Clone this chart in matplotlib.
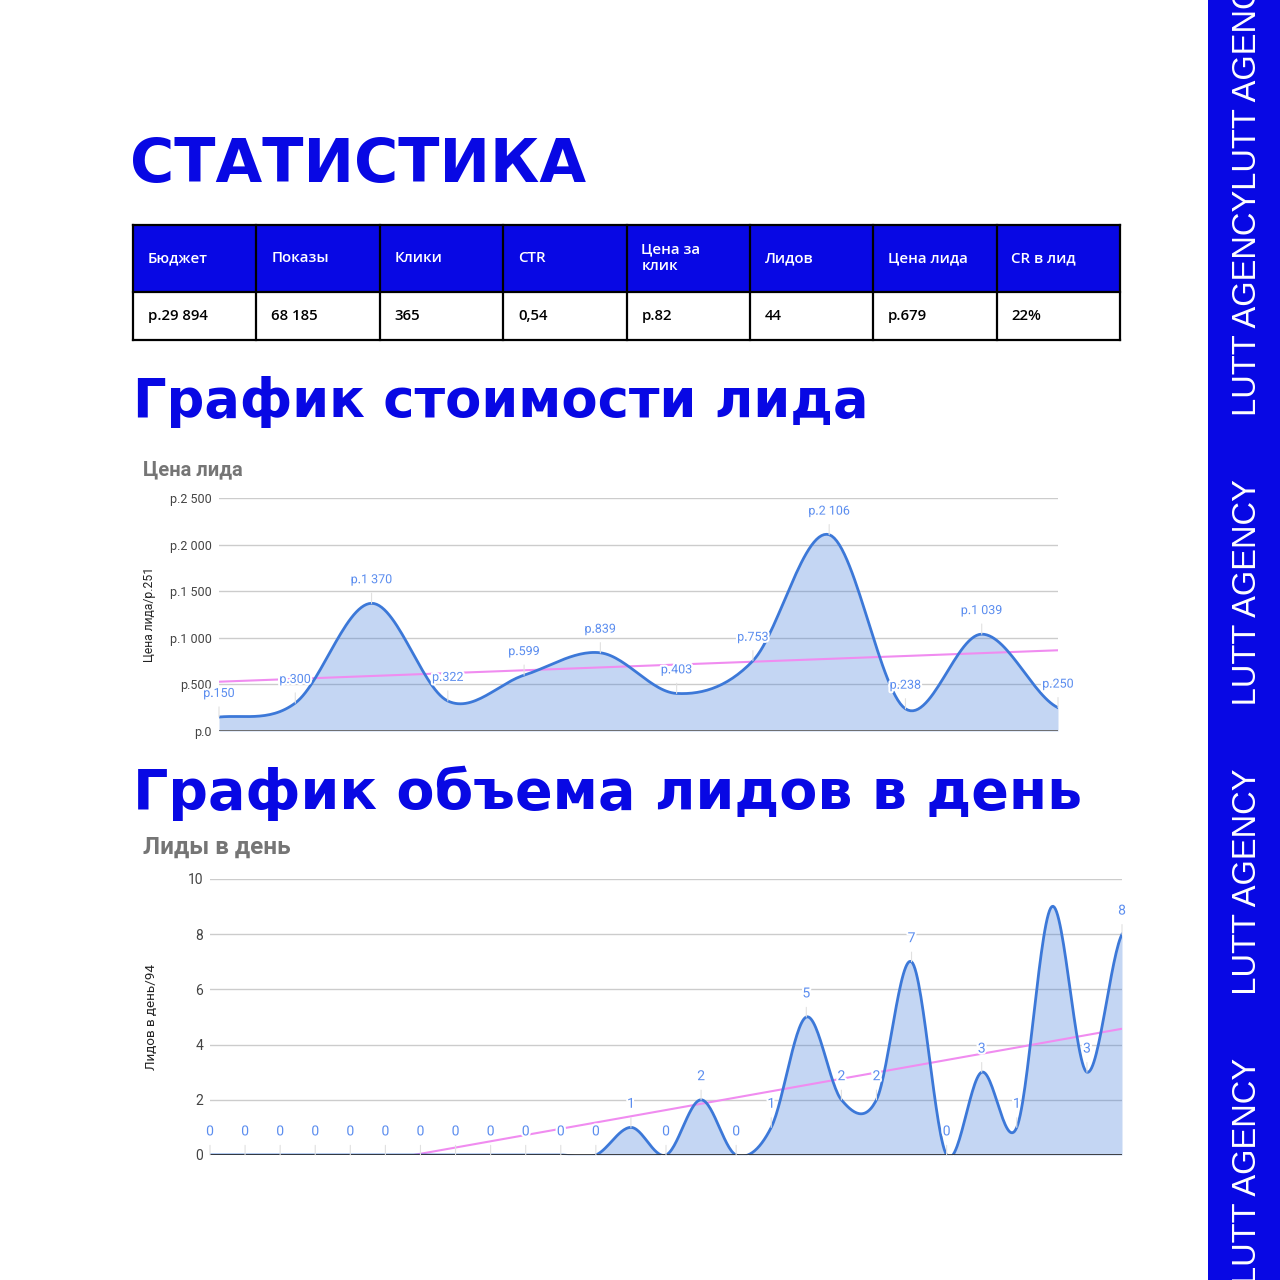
import numpy as np
import matplotlib
matplotlib.use("Agg")
import matplotlib.pyplot as plt
from matplotlib.patches import Rectangle
import matplotlib.patheffects as pe

# ----- данные -----
table_headers = ["Бюджет", "Показы", "Клики", "CTR", "Цена за\nклик",
                 "Лидов", "Цена лида", "CR в лид"]
table_values = ["р.29 894", "68 185", "365", "0,54", "р.82", "44", "р.679", "22%"]

lead_cost = [150, 300, 1370, 322, 599, 839, 403, 753, 2106, 238, 1039, 250]
lead_cost_ticks = [0, 500, 1000, 1500, 2000, 2500]

leads_per_day = [0, 0, 0, 0, 0, 0, 0, 0, 0, 0, 0, 0,
                 1, 0, 2, 0, 1, 5, 2, 2, 7, 0, 3, 1, 9, 3, 8]
leads_ticks = [0, 2, 4, 6, 8, 10]

band_text = ("LUTT AGENCY" + " " * 7) * 3 + "LUTT AGENCYLUTT AGENCY"

BLUE = "#0808e4"
LINE = "#3c78d8"
LABEL = "#5b8def"
TREND = "#f08cf0"
W = 1280


def fx(px):
    return px / W


def fy(px):
    return 1 - px / W


def smooth(y, n=30):
    """ кривая Катмулла-Рома через точки (как в Google Sheets) """
    y = np.asarray(y, float)
    m = np.empty_like(y)
    m[1:-1] = (y[2:] - y[:-2]) / 2
    m[0] = (y[1] - y[0]) / 2
    m[-1] = (y[-1] - y[-2]) / 2
    t = np.linspace(0, 1, n, endpoint=False)
    h00 = 2 * t**3 - 3 * t**2 + 1
    h10 = t**3 - 2 * t**2 + t
    h01 = -2 * t**3 + 3 * t**2
    h11 = t**3 - t**2
    xs, ys = [], []
    for i in range(len(y) - 1):
        xs.append(i + t)
        ys.append(h00 * y[i] + h10 * m[i] + h01 * y[i + 1] + h11 * m[i + 1])
    xs.append([len(y) - 1])
    ys.append([y[-1]])
    return np.concatenate(xs), np.concatenate(ys)


def area_chart(ax, values, ticks, fmt, labels, ylabel, title, title_xy,
               label_x, base_color, fs=9, title_fs=14.5):
    idx = np.arange(len(values))
    sx, sy = smooth(values)

    for tk in ticks[1:]:
        ax.axhline(tk, color="#cccccc", lw=1, zorder=0)
    ax.axhline(0, color=base_color, lw=1.3, zorder=4)

    ax.fill_between(sx, 0, sy, color=LINE, alpha=0.3, lw=0, zorder=1)
    ax.plot(sx, sy, color=LINE, lw=2, zorder=3)

    # линия тренда
    k, b = np.polyfit(idx, values, 1)
    ax.plot([idx[0], idx[-1]], [k * idx[0] + b, k * idx[-1] + b],
            color=TREND, lw=1.5, zorder=2)

    for i, (v, lab) in enumerate(zip(values, labels)):
        if not lab:
            continue
        ax.annotate(lab, xy=(i, v), xytext=(0, 17), textcoords="offset points",
                    ha="center", va="center", fontsize=fs, color=LABEL,
                    family="Roboto", zorder=6,
                    path_effects=[pe.withStroke(linewidth=3, foreground="white")],
                    arrowprops=dict(arrowstyle="-", color="#e0e0e0", lw=0.8,
                                    shrinkA=3, shrinkB=0))

    ax.set_xlim(idx[0], idx[-1])
    ax.set_ylim(ticks[0], ticks[-1])
    ax.set_yticks(ticks)
    ax.set_yticklabels([fmt(tk) for tk in ticks], family="Roboto",
                       fontsize=fs, color="#444444")
    ax.set_xticks([])
    ax.tick_params(axis="y", length=0, pad=5)
    for s in ax.spines.values():
        s.set_visible(False)
    ax.set_ylabel(ylabel, family="Roboto", fontsize=fs - 0.3, color="#222222")
    ax.yaxis.set_label_coords(label_x, 0.5)
    ax.figure.text(title_xy[0], title_xy[1], title, family="Roboto",
                   fontweight="bold", fontsize=title_fs, color="#757575",
                   ha="left", va="center")


def rub(v):
    return "р." + f"{v:,}".replace(",", " ")


fig = plt.figure(figsize=(12.8, 12.8), dpi=100)
fig.patch.set_facecolor("white")

# ----- заголовки -----
fig.text(fx(130), fy(182), "СТАТИСТИКА", color=BLUE, fontsize=43.5,
         family="DejaVu Sans", fontweight="bold", ha="left", va="baseline")
fig.text(fx(133), fy(417), "График стоимости лида", color=BLUE, fontsize=38,
         family="DejaVu Sans", fontweight="bold", ha="left", va="baseline")
fig.text(fx(133), fy(809), "График объема лидов в день", color=BLUE,
         fontsize=40, family="DejaVu Sans", fontweight="bold", ha="left",
         va="baseline")

# ----- таблица -----
tax = fig.add_axes([fx(133), fy(340), fx(987), fx(115)])
tax.set_xlim(0, len(table_headers))
tax.set_ylim(115, 0)
tax.axis("off")
tax.add_patch(Rectangle((0, 0), len(table_headers), 67, color=BLUE, lw=0))
for i, (h, v) in enumerate(zip(table_headers, table_values)):
    tax.text(i + 0.12, 33, h, color="white", fontsize=10.8, family="Open Sans",
             fontweight="semibold", ha="left", va="center", linespacing=1.25)
    tax.text(i + 0.12, 91, v, color="black", fontsize=10.8, family="Open Sans",
             fontweight="semibold", ha="left", va="center")
for i in range(len(table_headers) + 1):
    tax.plot([i, i], [0, 115], color="black", lw=1.6, clip_on=False)
for yy in (0, 67, 115):
    tax.plot([0, len(table_headers)], [yy, yy], color="black", lw=1.6,
             clip_on=False)

# ----- график 1 -----
ax1 = fig.add_axes([fx(219), fy(731), fx(839), fx(233)])
area_chart(ax1, lead_cost, lead_cost_ticks, rub,
           [rub(v) for v in lead_cost], "Цена лида/р.251", "Цена лида",
           (fx(143), fy(470)), (156 - 219) / 839, "#666666")

# ----- график 2 -----
ax2 = fig.add_axes([fx(210), fy(1155), fx(912), fx(276)])
area_chart(ax2, leads_per_day, leads_ticks, str,
           [str(v) if v < 9 else "" for v in leads_per_day],
           "Лидов в день/94", "Лиды в день", (fx(143), fy(847)),
           (158 - 210) / 912, "#333333", fs=10, title_fs=17.5)

# ----- боковая полоса -----
fig.patches.append(Rectangle((fx(1208), 0), fx(72), 1, color=BLUE, lw=0,
                             transform=fig.transFigure, figure=fig))
fig.text(fx(1247), fy(1284), band_text,
         rotation=90, color="white", fontsize=23.5, family="Liberation Sans",
         ha="center", va="bottom")

fig.savefig("out.png", dpi=100, facecolor="white")
